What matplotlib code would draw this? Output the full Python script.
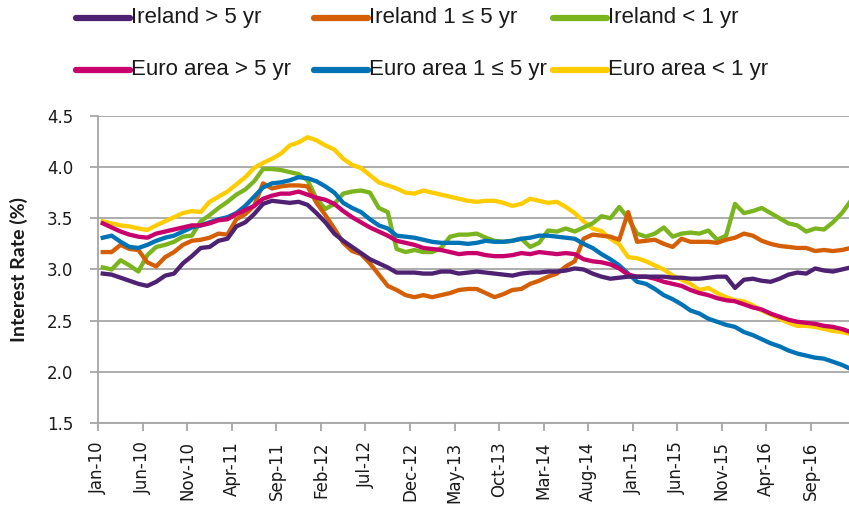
import numpy as np
import matplotlib
matplotlib.use("Agg")
import matplotlib.pyplot as plt
from matplotlib.lines import Line2D
from matplotlib.transforms import ScaledTranslation

# monthly series, Jan-10 .. Jan-17
months = 85
tick_labels = ["Jan-10", "Jun-10", "Nov-10", "Apr-11", "Sep-11", "Feb-12", "Jul-12",
               "Dec-12", "May-13", "Oct-13", "Mar-14", "Aug-14", "Jan-15", "Jun-15",
               "Nov-15", "Apr-16", "Sep-16"]

ireland_long = [2.96, 2.95, 2.92, 2.89, 2.86, 2.84, 2.88, 2.94, 2.96, 3.06,
                3.13, 3.21, 3.22, 3.28, 3.30, 3.42, 3.46, 3.54, 3.64, 3.67,
                3.66, 3.65, 3.66, 3.63, 3.55, 3.46, 3.35, 3.28, 3.22, 3.16,
                3.10, 3.06, 3.02, 2.97, 2.97, 2.97, 2.96, 2.96, 2.98, 2.98,
                2.96, 2.97, 2.98, 2.97, 2.96, 2.95, 2.94, 2.96, 2.97, 2.97,
                2.98, 2.98, 2.99, 3.01, 3.00, 2.96, 2.93, 2.91, 2.92, 2.93,
                2.93, 2.93, 2.93, 2.93, 2.92, 2.92, 2.91, 2.91, 2.92, 2.93,
                2.93, 2.82, 2.90, 2.91, 2.89, 2.88, 2.91, 2.95, 2.97, 2.96,
                3.01, 2.99, 2.98, 3.00, 3.02]

ireland_mid = [3.17, 3.17, 3.24, 3.20, 3.19, 3.07, 3.03, 3.12, 3.17, 3.24,
               3.28, 3.29, 3.31, 3.35, 3.34, 3.49, 3.54, 3.62, 3.84, 3.79,
               3.81, 3.82, 3.82, 3.81, 3.65, 3.53, 3.40, 3.26, 3.18, 3.15,
               3.06, 2.95, 2.84, 2.80, 2.75, 2.73, 2.75, 2.73, 2.75, 2.77,
               2.80, 2.81, 2.81, 2.77, 2.73, 2.76, 2.80, 2.81, 2.86, 2.89,
               2.93, 2.96, 3.03, 3.08, 3.30, 3.34, 3.33, 3.32, 3.29, 3.56,
               3.27, 3.28, 3.29, 3.25, 3.22, 3.30, 3.27, 3.27, 3.27, 3.26,
               3.29, 3.31, 3.35, 3.33, 3.28, 3.25, 3.23, 3.22, 3.21, 3.21,
               3.18, 3.19, 3.18, 3.19, 3.21]

ireland_short = [3.02, 3.00, 3.09, 3.04, 2.98, 3.14, 3.22, 3.24, 3.27, 3.32,
                 3.33, 3.47, 3.53, 3.60, 3.66, 3.73, 3.78, 3.86, 3.98, 3.98,
                 3.97, 3.95, 3.93, 3.87, 3.69, 3.59, 3.64, 3.74, 3.76, 3.77,
                 3.75, 3.60, 3.56, 3.20, 3.17, 3.19, 3.17, 3.17, 3.21, 3.32,
                 3.34, 3.34, 3.35, 3.31, 3.28, 3.27, 3.28, 3.30, 3.22, 3.26,
                 3.38, 3.37, 3.40, 3.37, 3.41, 3.45, 3.52, 3.50, 3.61, 3.50,
                 3.35, 3.32, 3.35, 3.41, 3.32, 3.35, 3.36, 3.35, 3.38, 3.29,
                 3.33, 3.64, 3.55, 3.57, 3.60, 3.55, 3.50, 3.45, 3.43, 3.37,
                 3.40, 3.39, 3.46, 3.55, 3.67]

euro_long = [3.45, 3.41, 3.37, 3.34, 3.32, 3.31, 3.35, 3.37, 3.39, 3.41,
             3.43, 3.43, 3.45, 3.48, 3.49, 3.54, 3.58, 3.62, 3.69, 3.72,
             3.74, 3.74, 3.76, 3.73, 3.70, 3.68, 3.64, 3.57, 3.51, 3.46,
             3.41, 3.37, 3.33, 3.28, 3.26, 3.24, 3.21, 3.20, 3.19, 3.17,
             3.15, 3.16, 3.16, 3.14, 3.13, 3.13, 3.14, 3.16, 3.15, 3.17,
             3.16, 3.15, 3.16, 3.15, 3.10, 3.08, 3.07, 3.05, 3.01, 2.95,
             2.93, 2.93, 2.91, 2.88, 2.86, 2.84, 2.80, 2.77, 2.75, 2.72,
             2.70, 2.69, 2.66, 2.63, 2.61, 2.57, 2.54, 2.51, 2.49, 2.48,
             2.47, 2.45, 2.44, 2.42, 2.39]

euro_mid = [3.31, 3.33, 3.27, 3.22, 3.21, 3.24, 3.28, 3.31, 3.33, 3.37,
            3.41, 3.43, 3.46, 3.49, 3.51, 3.55, 3.62, 3.71, 3.80, 3.84,
            3.85, 3.87, 3.90, 3.89, 3.86, 3.81, 3.75, 3.65, 3.60, 3.56,
            3.49, 3.43, 3.40, 3.33, 3.32, 3.31, 3.29, 3.27, 3.26, 3.26,
            3.26, 3.25, 3.26, 3.28, 3.27, 3.27, 3.28, 3.30, 3.31, 3.33,
            3.33, 3.32, 3.31, 3.30, 3.25, 3.21, 3.15, 3.10, 3.04, 2.96,
            2.88, 2.86, 2.81, 2.75, 2.71, 2.66, 2.60, 2.57, 2.52, 2.49,
            2.46, 2.44, 2.39, 2.36, 2.32, 2.28, 2.25, 2.21, 2.18, 2.16,
            2.14, 2.13, 2.10, 2.07, 2.03]

euro_short = [3.47, 3.45, 3.43, 3.42, 3.40, 3.385, 3.43, 3.47, 3.51, 3.55,
              3.57, 3.56, 3.66, 3.71, 3.76, 3.83, 3.90, 3.99, 4.04, 4.08,
              4.13, 4.21, 4.24, 4.29, 4.26, 4.21, 4.17, 4.08, 4.02, 3.99,
              3.92, 3.85, 3.82, 3.79, 3.75, 3.74, 3.77, 3.75, 3.73, 3.71,
              3.69, 3.67, 3.66, 3.67, 3.67, 3.65, 3.62, 3.64, 3.69, 3.67,
              3.65, 3.66, 3.61, 3.55, 3.47, 3.40, 3.375, 3.30, 3.245, 3.12,
              3.11, 3.08, 3.04, 3.00, 2.94, 2.90, 2.86, 2.80, 2.82, 2.77,
              2.73, 2.70, 2.69, 2.65, 2.60, 2.56, 2.52, 2.48, 2.45, 2.45,
              2.44, 2.42, 2.40, 2.39, 2.37]

series = [
    ("Ireland > 5 yr", ireland_long, "#4E2173"),
    ("Euro area > 5 yr", euro_long, "#C8006C"),
    ("Ireland 1 \u2264 5 yr", ireland_mid, "#D55F06"),
    ("Euro area 1 \u2264 5 yr", euro_mid, "#0072B6"),
    ("Ireland < 1 yr", ireland_short, "#7AB51F"),
    ("Euro area < 1 yr", euro_short, "#FFCC00"),
]
# draw order (back to front)
draw_order = [5, 4, 2, 3, 1, 0]

grid_col = "#A6A6A6"
text_col = "#1A1A1A"

fig = plt.figure(figsize=(8.49, 5.14), dpi=100)
ax = fig.add_axes([0.1158, 0.1765, 0.8842, 0.5984])

# points sit between the month tick marks
x = np.arange(months) + 0.5
for k in draw_order:
    label, vals, col = series[k]
    ax.plot(x, vals, color=col, lw=3.1, solid_joinstyle="round", zorder=3)

ax.set_xlim(0, 84.3)
ax.set_ylim(1.5, 4.5)
yticks = np.arange(1.5, 4.51, 0.5)
ax.set_yticks(yticks)
ax.set_yticklabels([f"{v:.1f}" for v in yticks], fontsize=12,
                   family="DejaVu Sans", color=text_col)
ax.set_xticks(np.arange(0, 81, 5))
ax.set_xticklabels(tick_labels, rotation=90, fontsize=12, family="DejaVu Sans",
                   color=text_col, ha="center", va="top")
shift = ScaledTranslation(3 / 100, 0, fig.dpi_scale_trans)
for t in ax.get_xticklabels():
    t.set_transform(t.get_transform() + shift)

ax.grid(axis="y", color=grid_col, lw=1.3, zorder=0)
ax.tick_params(axis="y", length=6, width=1.3, color=grid_col, pad=12)
ax.tick_params(axis="x", length=6, width=1.3, color=grid_col, pad=7)
for side in ["top", "right"]:
    ax.spines[side].set_visible(False)
for side in ["left", "bottom"]:
    ax.spines[side].set_color(grid_col)
    ax.spines[side].set_linewidth(1.3)

ax.set_ylabel("Interest Rate (%)", fontsize=14, fontweight="bold",
              family="Lato", color=text_col)
ax.yaxis.set_label_coords(-0.094, 0.5)

# legend: two rows, three columns
col_x = [76, 314, 553]
row_y = [18, 70]
W, H = 849, 514
for k, (label, vals, col) in enumerate(series):
    c, r = divmod(k, 2)
    x0 = col_x[c] / W
    y0 = 1 - row_y[r] / H
    fig.add_artist(Line2D([x0, x0 + 54 / W], [y0, y0], color=col, lw=4.5,
                          solid_capstyle="round", transform=fig.transFigure))
    fig.text(x0 + 55 / W, y0, label, fontsize=16, family="Liberation Sans",
             va="center", ha="left", color=text_col)

fig.savefig("out.png", dpi=100)
